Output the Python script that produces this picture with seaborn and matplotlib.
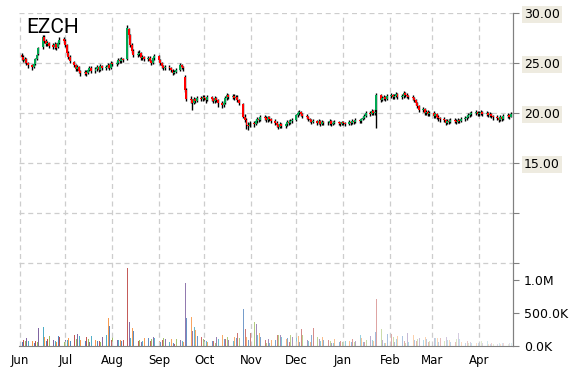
import numpy as np
import pandas as pd
import matplotlib
matplotlib.use("Agg")
import matplotlib.pyplot as plt
import matplotlib.dates as mdates
import matplotlib.ticker as mticker
import seaborn as sns

# ---------------- data ----------------
start_date = "2014-06-02"
end_date = "2015-04-22"

opens = [
    25.8, 25.6, 25.2, 25.4, 25.0,  24.8, 24.6, 24.9, 25.4, 25.9,  26.6, 27.6, 27.2, 26.9, 27.0,
    26.8, 26.6, 26.9, 26.6, 27.0,  27.4, 27.2, 26.8, 26.0, 25.6,  25.1, 24.8, 24.4, 24.6, 24.2,
    24.0, 24.1, 24.0, 24.3, 24.5,  24.2, 24.4, 24.6, 24.3, 24.7,  24.5, 24.6, 24.8, 24.5, 25.0,
    24.9, 25.0, 25.3, 25.2, 25.4,  25.4, 28.4, 27.8, 26.8, 26.2,  25.8, 25.9, 26.0, 25.5, 25.6,
    25.4, 25.5, 25.2, 25.0, 25.5,  25.7, 25.3, 25.0, 24.7, 24.5,  24.6, 24.5, 24.3, 24.0, 24.1,
    24.3, 24.8, 24.6, 23.6, 22.3,  21.4, 21.3, 21.0, 21.4, 21.2,  21.5, 21.4, 21.6, 21.5, 21.3,
    21.6, 21.4, 21.2, 21.5, 21.3,  21.0, 20.8, 21.0, 21.5, 21.8,  21.6, 21.7, 21.5, 21.6, 21.3,
    20.9, 19.6, 19.3, 18.8, 18.7,  19.0, 18.9, 19.2, 19.4, 19.3,  19.6, 19.5, 19.3, 19.6, 19.4,
    19.2, 19.0, 18.8, 18.6, 18.9,  18.7, 18.9, 19.1, 19.0, 19.2,  19.3, 19.8, 20.0, 20.1, 19.9,
    19.7, 19.6, 19.4, 19.3, 19.1,  19.2, 19.0, 19.2, 18.9, 19.1,  19.0, 19.0, 19.2, 18.9, 19.0,
    19.1, 19.0, 18.9, 19.1, 19.0,  18.9, 19.1, 19.0, 19.2, 19.1,  19.3, 19.2, 19.4, 19.5, 19.7,
    20.0, 19.9, 20.2, 20.0, 20.3,  21.8, 21.3, 21.5, 21.6, 21.4,  21.7, 21.8, 21.6, 21.7, 21.9,
    21.6, 21.7, 22.0, 21.8, 21.7,  21.6, 21.5, 21.3, 21.0, 20.7,  20.3, 20.4, 20.0, 20.1, 19.9,
    20.0, 19.7, 19.9, 19.6, 19.5,  19.4, 19.3, 19.0, 19.2, 19.1,  19.3, 19.2, 19.1, 19.3, 19.2,
    19.4, 19.5, 19.6, 19.8, 19.9,  20.0, 20.1, 19.9, 20.0, 20.1,  19.9, 20.0, 19.8, 19.9, 19.7,
    19.6, 19.5, 19.3, 19.6, 19.4,  19.7, 19.8, 19.6,
]
highs = [
    26.0, 25.8, 25.6, 25.5, 25.1,  24.9, 25.0, 25.5, 25.9, 26.6,  27.8, 27.8, 27.4, 27.2, 27.1,
    27.0, 27.1, 27.0, 27.2, 27.6,  27.6, 27.4, 26.9, 26.2, 25.8,  25.2, 24.9, 24.8, 24.7, 24.3,
    24.3, 24.3, 24.4, 24.7, 24.7,  24.6, 24.8, 24.7, 24.9, 24.8,  24.8, 25.0, 24.9, 25.2, 25.1,
    25.2, 25.5, 25.5, 25.6, 25.5,  28.8, 28.5, 27.9, 27.0, 26.4,  26.2, 26.3, 26.1, 25.8, 25.7,
    25.7, 25.7, 25.3, 25.6, 25.9,  25.8, 25.4, 25.1, 24.8, 24.8,  24.8, 24.6, 24.4, 24.3, 24.5,
    25.0, 24.9, 24.7, 23.8, 22.5,  21.7, 21.4, 21.6, 21.5, 21.7,  21.7, 21.8, 21.8, 21.6, 21.8,
    21.7, 21.5, 21.7, 21.6, 21.4,  21.2, 21.2, 21.7, 22.0, 21.9,  21.9, 21.9, 21.8, 21.8, 21.4,
    21.0, 19.9, 19.5, 19.1, 19.2,  19.2, 19.4, 19.6, 19.6, 19.8,  19.8, 19.7, 19.7, 19.7, 19.5,
    19.4, 19.2, 18.9, 19.1, 19.0,  19.0, 19.3, 19.3, 19.4, 19.5,  19.9, 20.2, 20.3, 20.2, 20.0,
    19.9, 19.7, 19.5, 19.4, 19.4,  19.3, 19.4, 19.3, 19.3, 19.2,  19.2, 19.4, 19.3, 19.2, 19.3,
    19.2, 19.1, 19.2, 19.2, 19.1,  19.3, 19.2, 19.4, 19.3, 19.5,  19.4, 19.5, 19.7, 19.9, 20.2,
    20.2, 20.4, 20.3, 20.4, 22.0,  21.9, 21.7, 21.8, 21.7, 21.9,  22.0, 21.9, 21.9, 22.1, 22.0,
    21.9, 22.2, 22.1, 22.0, 21.8,  21.8, 21.6, 21.4, 21.1, 20.8,  20.6, 20.5, 20.3, 20.3, 20.2,
    20.2, 20.0, 20.0, 19.8, 19.6,  19.6, 19.4, 19.4, 19.4, 19.5,  19.5, 19.4, 19.5, 19.4, 19.6,
    19.7, 19.8, 20.0, 20.1, 20.2,  20.3, 20.2, 20.2, 20.3, 20.2,  20.2, 20.1, 20.1, 20.0, 19.8,
    19.8, 19.6, 19.8, 19.7, 19.9,  20.0, 19.9, 20.1,
]
lows = [
    25.3, 25.1, 25.0, 24.8, 24.5,  24.3, 24.5, 24.8, 25.3, 25.8,  26.4, 27.0, 26.7, 26.7, 26.5,
    26.4, 26.4, 26.3, 26.5, 26.9,  27.0, 26.6, 25.8, 25.4, 25.0,  24.6, 24.2, 24.2, 24.0, 23.7,
    23.8, 23.7, 23.9, 24.2, 24.0,  24.0, 24.2, 24.1, 24.2, 24.3,  24.3, 24.5, 24.3, 24.4, 24.7,
    24.7, 24.9, 25.0, 25.0, 25.1,  25.3, 27.5, 26.6, 26.0, 25.6,  25.6, 25.7, 25.3, 25.3, 25.2,
    25.2, 25.1, 24.8, 24.9, 25.3,  25.1, 24.8, 24.5, 24.3, 24.3,  24.3, 24.1, 23.8, 23.9, 24.0,
    24.2, 24.4, 24.2, 22.1, 21.2,  21.0, 20.3, 20.9, 21.0, 21.1,  21.2, 21.2, 21.3, 21.0, 21.2,
    21.2, 21.0, 21.0, 21.1, 20.6,  20.5, 20.6, 20.9, 21.3, 21.4,  21.4, 21.3, 21.4, 21.1, 20.8,
    19.5, 19.1, 18.4, 18.3, 18.6,  18.6, 18.8, 19.0, 19.1, 19.2,  19.3, 19.1, 19.1, 19.2, 19.0,
    18.8, 18.6, 18.4, 18.5, 18.5,  18.5, 18.7, 18.8, 18.9, 19.0,  19.2, 19.6, 19.8, 19.7, 19.5,
    19.4, 19.2, 19.1, 18.9, 19.0,  18.8, 18.9, 18.7, 18.8, 18.8,  18.8, 18.8, 18.7, 18.8, 18.9,
    18.8, 18.7, 18.8, 18.8, 18.7,  18.8, 18.8, 18.9, 18.9, 19.0,  19.0, 19.0, 19.3, 19.4, 19.6,
    19.7, 19.8, 19.8, 19.8, 18.5,  21.1, 21.2, 21.3, 21.2, 21.3,  21.5, 21.4, 21.4, 21.6, 21.4,
    21.4, 21.5, 21.6, 21.5, 21.4,  21.3, 21.1, 20.8, 20.5, 20.1,  20.1, 19.8, 19.8, 19.7, 19.7,
    19.5, 19.5, 19.4, 19.2, 19.1,  19.1, 18.8, 18.9, 18.9, 19.0,  19.0, 18.9, 19.0, 19.0, 19.1,
    19.2, 19.3, 19.5, 19.6, 19.7,  19.8, 19.7, 19.7, 19.8, 19.7,  19.7, 19.6, 19.6, 19.5, 19.3,
    19.3, 19.1, 19.2, 19.2, 19.3,  19.5, 19.4, 19.6,
]
closes = [
    25.6, 25.3, 25.4, 25.0, 24.8,  24.6, 24.9, 25.4, 25.8, 26.5,  27.6, 27.2, 26.9, 27.0, 26.7,
    26.6, 26.9, 26.5, 27.0, 27.3,  27.2, 26.8, 26.0, 25.6, 25.2,  24.8, 24.4, 24.6, 24.2, 24.0,
    24.1, 23.9, 24.3, 24.5, 24.2,  24.4, 24.6, 24.3, 24.7, 24.5,  24.6, 24.8, 24.5, 25.0, 24.9,
    25.0, 25.3, 25.2, 25.4, 25.3,  28.5, 27.8, 26.8, 26.2, 25.8,  25.9, 26.0, 25.5, 25.6, 25.4,
    25.5, 25.2, 25.0, 25.5, 25.7,  25.3, 25.0, 24.7, 24.5, 24.6,  24.5, 24.3, 24.0, 24.1, 24.3,
    24.8, 24.6, 24.5, 22.3, 21.4,  21.3, 21.0, 21.4, 21.2, 21.5,  21.4, 21.6, 21.5, 21.3, 21.6,
    21.4, 21.2, 21.5, 21.3, 21.0,  20.8, 21.0, 21.5, 21.8, 21.6,  21.7, 21.5, 21.6, 21.3, 21.0,
    19.6, 19.3, 18.8, 18.7, 19.0,  18.9, 19.2, 19.4, 19.3, 19.6,  19.5, 19.3, 19.6, 19.4, 19.2,
    19.0, 18.8, 18.6, 18.9, 18.7,  18.9, 19.1, 19.0, 19.2, 19.3,  19.8, 20.0, 20.1, 19.9, 19.7,
    19.6, 19.4, 19.3, 19.1, 19.2,  19.0, 19.2, 18.9, 19.1, 19.0,  19.0, 19.2, 18.9, 19.0, 19.1,
    19.0, 18.9, 19.1, 19.0, 18.9,  19.1, 19.0, 19.2, 19.1, 19.3,  19.2, 19.4, 19.5, 19.7, 20.0,
    19.9, 20.2, 20.0, 20.1, 21.8,  21.3, 21.5, 21.6, 21.4, 21.7,  21.8, 21.6, 21.7, 21.9, 21.6,
    21.7, 22.0, 21.8, 21.7, 21.6,  21.5, 21.3, 21.0, 20.7, 20.3,  20.4, 20.0, 20.1, 19.9, 20.0,
    19.7, 19.9, 19.6, 19.5, 19.4,  19.3, 19.0, 19.2, 19.1, 19.3,  19.2, 19.1, 19.3, 19.2, 19.4,
    19.5, 19.6, 19.8, 19.9, 20.0,  20.1, 19.9, 20.0, 20.1, 19.9,  20.0, 19.8, 19.9, 19.7, 19.6,
    19.5, 19.3, 19.6, 19.4, 19.7,  19.8, 19.6, 19.9,
]
volumes_k = [
    60, 90, 70, 120, 80,   75, 40, 75, 60, 270,   290, 135, 70, 105, 150,
    90, 80, 60, 150, 130,  60, 90, 90, 120, 75,   165, 105, 180, 150, 90,
    75, 135, 105, 60, 150, 90, 75, 75, 60, 135,   165, 420, 300, 90, 165,
    90, 90, 90, 75, 90,    1180, 360, 120, 270, 225,  75, 90, 60, 75, 120,
    120, 75, 105, 135, 120, 75, 60, 90, 120, 105,  60, 105, 45, 30, 105,
    90, 75, 60, 960, 420,  440, 225, 290, 240, 150,  135, 105, 90, 75, 60,
    75, 75, 45, 135, 105,  165, 105, 105, 135, 90,  75, 135, 120, 195, 120,
    560, 255, 135, 90, 195, 365, 330, 165, 195, 130,  90, 50, 105, 40, 85,
    85, 165, 165, 165, 135, 105, 120, 60, 165, 135,  135, 150, 60, 255, 165,
    90, 75, 60, 165, 270,  135, 105, 75, 135, 90,   90, 75, 45, 45, 105,
    60, 75, 60, 30, 75,    75, 60, 105, 60, 75,     165, 120, 60, 60, 90,
    150, 90, 75, 210, 710, 255, 90, 40, 50, 180,    180, 135, 60, 105, 150,
    150, 75, 45, 195, 60,  165, 90, 75, 105, 120,   90, 135, 105, 60, 75,
    120, 120, 120, 60, 120, 75, 135, 90, 90, 60,    60, 105, 195, 105, 60,
    45, 75, 45, 60, 45,    45, 45, 30, 75, 45,      75, 30, 30, 45, 30,
    30, 45, 30, 45, 45,    30, 45, 45,
]
price_ticks = [30, 25, 20, 15, 10, 5]
price_labels = ["30.00", "25.00", "20.00", "15.00", "", ""]
vol_ticks = [0, 500_000, 1_000_000]
vol_labels = ["0.0K", "500.0K", "1.0M"]
volume_palette = ["#4F81BD", "#C0504D", "#9BBB59", "#8064A2", "#4BACC6", "#F79646"]
spike_colour_index = {50: 1, 78: 3, 79: 0, 80: 5, 105: 0, 106: 1, 169: 1, 170: 2}
up_color = "#00A651"
down_color = "#FF0000"

# ---------------- build ----------------
dates = pd.bdate_range(start_date, end_date)
df = pd.DataFrame({"date": dates, "open": opens, "high": highs, "low": lows,
                   "close": closes, "volume": np.array(volumes_k) * 1000})

sns.set_style("white")
plt.rcParams["font.family"] = ["DejaVu Sans"]

W, H = 570, 370
fig = plt.figure(figsize=(W / 100, H / 100), dpi=100)
left_px, right_px, top_px, bottom_px = 19, 513, 13, 346
ax = fig.add_axes([left_px / W, 1 - bottom_px / H, (right_px - left_px) / W, (bottom_px - top_px) / H])
axv = ax.twinx()
ax.set_zorder(2)
axv.set_zorder(1)
ax.patch.set_visible(False)

grid_kw = dict(color="#CDCDCD", lw=0.9, ls=(0, (4, 3)))

# volume bars (fading towards the right), crisp 1-px bars
n = len(df)
vol_cols = sns.color_palette(volume_palette, 6)
frac = np.arange(n) / (n - 1)
alphas = 1.0 - 0.8 * frac ** 1.6
rgba = []
for i in range(n):
    ci = spike_colour_index.get(i, i % 6)
    rgba.append((*vol_cols[ci], alphas[i]))
axv.vlines(df["date"], 0, df["volume"], colors=rgba, lw=0.72, antialiased=False)

# candles: black wicks, coloured bodies
ax.vlines(df["date"], df["low"], df["high"], color="black", lw=1.0, zorder=3)
body_col = [up_color if c >= o else down_color for o, c in zip(df["open"], df["close"])]
ax.bar(df["date"], df["close"] - df["open"], bottom=df["open"], width=1.3,
       color=body_col, linewidth=0, zorder=4)

# x axis
x0 = pd.Timestamp("2014-06-01")
ax.set_xlim(x0 - pd.Timedelta(days=0.66), x0 + pd.Timedelta(days=326.5))
ax.xaxis.set_major_locator(mdates.MonthLocator())
ax.xaxis.set_major_formatter(mdates.DateFormatter("%b"))
ax.tick_params(axis="x", length=4, color="#808080", labelsize=8.5, pad=2, labelcolor="#000000")
ax.grid(axis="x", **grid_kw)

# price axis (right)
ax.set_ylim(-3.3, 30.0)
ax.set_yticks(price_ticks)
ax.set_yticklabels(price_labels)
ax.yaxis.tick_right()
ax.tick_params(axis="y", length=4, color="#808080", labelsize=9, pad=4, labelcolor="#000000")
for lab in ax.get_yticklabels():
    if lab.get_text():
        lab.set_bbox(dict(facecolor="#EEEBE0", edgecolor="none", pad=1.2))
for t in price_ticks:
    ax.axhline(t, zorder=0, **grid_kw)

# volume axis (right)
axv.set_ylim(0, (bottom_px - top_px) / 66 * 1_000_000)
axv.yaxis.set_major_locator(mticker.FixedLocator(vol_ticks))
axv.set_yticklabels(vol_labels)
axv.tick_params(axis="y", length=4, color="#808080", labelsize=9, pad=4, labelcolor="#000000")

for a in (ax, axv):
    for s in ("top", "left"):
        a.spines[s].set_visible(False)
    a.spines["right"].set_color("#808080")
    a.spines["bottom"].set_color("#808080")
axv.spines["bottom"].set_visible(False)

fig.text(26 / W, 1 - 18 / H, "EZCH", fontsize=15, family=["Roboto", "DejaVu Sans"],
         va="top", ha="left", color="black", zorder=10)

fig.savefig("out.png", dpi=100)
